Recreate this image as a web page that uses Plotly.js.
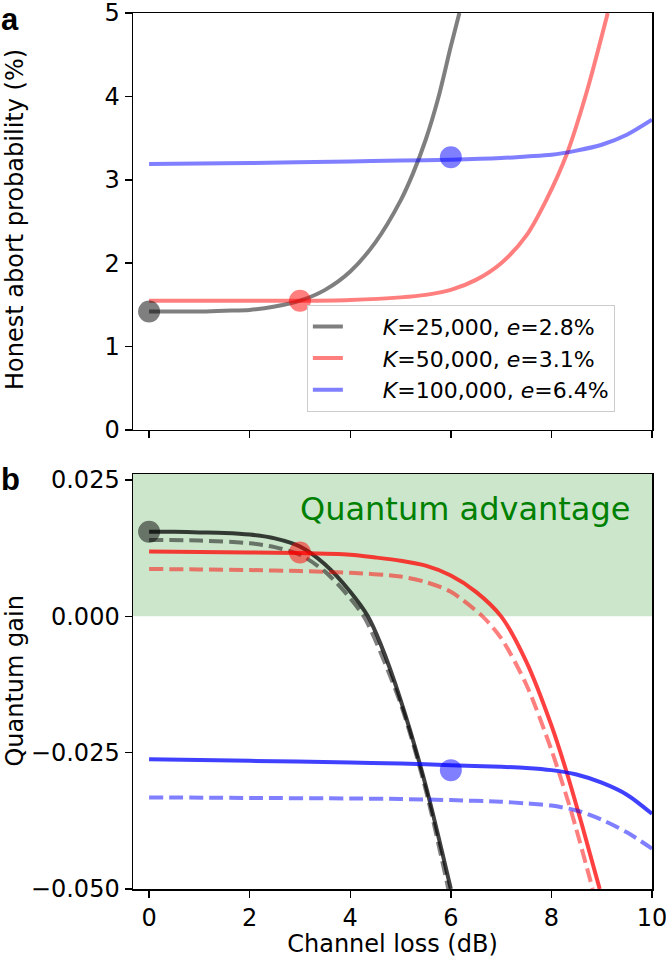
<!DOCTYPE html>
<html>
<head>
<meta charset="utf-8">
<script src="https://cdn.plot.ly/plotly-3.0.1.min.js"></script>
<style>html,body{margin:0;padding:0;background:#fff;}#chart{width:666px;height:958px;}</style>
</head>
<body>
<div id="chart"></div>
<script>
// ---------- Data ----------
const legendLabels = ["<i>K</i>=25,000, <i>e</i>=2.8%", "<i>K</i>=50,000, <i>e</i>=3.1%", "<i>K</i>=100,000, <i>e</i>=6.4%"];

// Panel a: honest abort probability (%)
const abortX_K25 = [0, 0.5, 1, 1.5, 2, 2.5, 3, 3.5, 4, 4.5, 5, 5.25, 5.5, 5.75, 6, 6.17];
const abortY_K25 = [1.42, 1.42, 1.42, 1.43, 1.44, 1.48, 1.55, 1.68, 1.90, 2.25, 2.75, 3.08, 3.48, 3.98, 4.6, 5.0];
const abortX_K50 = [0, 1, 2, 3, 4, 5, 5.5, 6, 6.5, 7, 7.5, 7.9, 8.3, 8.7, 9.12];
const abortY_K50 = [1.55, 1.55, 1.55, 1.55, 1.56, 1.59, 1.62, 1.68, 1.80, 2.0, 2.33, 2.76, 3.30, 4.05, 5.0];
const abortX_K100 = [0, 2, 4, 5, 6, 7, 7.5, 8, 8.5, 9, 9.5, 10];
const abortY_K100 = [3.19, 3.20, 3.22, 3.23, 3.24, 3.26, 3.28, 3.30, 3.35, 3.42, 3.54, 3.72];
const abortPointX = [0, 3, 6];
const abortPointY = [1.42, 1.55, 3.27];

// Panel b: quantum gain
const gainX_K25 = [0, 0.5, 1, 1.5, 2, 2.5, 3, 3.5, 4, 4.35, 4.6, 5, 5.5, 6];
const gainY_K25 = [0.0155, 0.0155, 0.0154, 0.0153, 0.0150, 0.0143, 0.0128, 0.0095, 0.0045, 0.0, -0.005, -0.0153, -0.031, -0.050];
const gainDashX_K25 = [0, 1, 2, 2.5, 3, 3.5, 4, 4.3, 5, 5.5, 5.95];
const gainDashY_K25 = [0.0140, 0.0139, 0.0134, 0.0127, 0.0113, 0.0082, 0.0033, -0.0005, -0.0160, -0.0318, -0.050];
const gainX_K50 = [0, 1, 2, 3, 4, 4.5, 5, 5.5, 6, 6.5, 7, 7.5, 8, 8.3, 8.6, 8.96];
const gainY_K50 = [0.0119, 0.0118, 0.0117, 0.0116, 0.0113, 0.0108, 0.0102, 0.0093, 0.0075, 0.0045, 0.0, -0.0083, -0.020, -0.0285, -0.038, -0.050];
const gainDashX_K50 = [0, 1, 2, 3, 4, 5, 5.5, 6, 6.63, 7, 7.5, 8, 8.4, 8.82];
const gainDashY_K50 = [0.0087, 0.0086, 0.0085, 0.0083, 0.0080, 0.0073, 0.0063, 0.0045, 0.0, -0.004, -0.0125, -0.0245, -0.036, -0.050];
const gainX_K100 = [0, 2, 4, 5, 6, 7, 7.5, 8, 8.5, 9, 9.5, 10];
const gainY_K100 = [-0.0262, -0.0265, -0.0268, -0.0270, -0.0273, -0.0276, -0.0278, -0.0282, -0.0290, -0.0305, -0.0327, -0.0362];
const gainDashX_K100 = [0, 2, 4, 5, 6, 7, 7.5, 8, 8.5, 9, 9.5, 10];
const gainDashY_K100 = [-0.0332, -0.0333, -0.0334, -0.0335, -0.0337, -0.0340, -0.0343, -0.0347, -0.0356, -0.0373, -0.0396, -0.0426];
const gainPointX = [0, 3, 6];
const gainPointY = [0.0155, 0.0117, -0.0282];

const xTickVals = [0, 2, 4, 6, 8, 10];
const abortTickVals = [0, 1, 2, 3, 4, 5];
const gainTickVals = [0.025, 0.0, -0.025, -0.050];
const gainTickText = ["0.025", "0.000", "\u22120.025", "\u22120.050"];

// ---------- Styles ----------
const FONT = "DejaVu Sans, Verdana, sans-serif";
const FS = 24;
const halfColors = ["rgba(0,0,0,0.5)", "rgba(255,0,0,0.5)", "rgba(0,0,255,0.5)"];
const strongColors = ["rgba(0,0,0,0.75)", "rgba(255,0,0,0.75)", "rgba(0,0,255,0.75)"];
const LW = 4;
const LEGEND_PAD = "\u00a0\u00a0\u00a0\u00a0\u00a0";

const traces = [];
const topX = [abortX_K25, abortX_K50, abortX_K100];
const topY = [abortY_K25, abortY_K50, abortY_K100];
for (let i = 0; i < 3; i++) {
  traces.push({x: topX[i], y: topY[i], type: "scatter", mode: "lines", xaxis: "x", yaxis: "y",
    name: LEGEND_PAD + legendLabels[i], line: {color: halfColors[i], width: LW, shape: "spline", smoothing: 0.8}});
}
for (let i = 0; i < 3; i++) {
  traces.push({x: [abortPointX[i]], y: [abortPointY[i]], type: "scatter", mode: "markers", xaxis: "x", yaxis: "y",
    showlegend: false, marker: {color: halfColors[i], size: 22, line: {width: 0}}, cliponaxis: false});
}
const botX = [gainX_K25, gainX_K50, gainX_K100];
const botY = [gainY_K25, gainY_K50, gainY_K100];
const botDX = [gainDashX_K25, gainDashX_K50, gainDashX_K100];
const botDY = [gainDashY_K25, gainDashY_K50, gainDashY_K100];
for (let i = 0; i < 3; i++) {
  traces.push({x: botDX[i], y: botDY[i], type: "scatter", mode: "lines", xaxis: "x2", yaxis: "y2", showlegend: false,
    line: {color: halfColors[i], width: LW, dash: "14px,6px", shape: "spline", smoothing: 0.8}});
  traces.push({x: botX[i], y: botY[i], type: "scatter", mode: "lines", xaxis: "x2", yaxis: "y2", showlegend: false,
    line: {color: strongColors[i], width: LW, shape: "spline", smoothing: 0.8}});
}
for (let i = 0; i < 3; i++) {
  traces.push({x: [gainPointX[i]], y: [gainPointY[i]], type: "scatter", mode: "markers", xaxis: "x2", yaxis: "y2",
    showlegend: false, marker: {color: halfColors[i], size: 22, line: {width: 0}}, cliponaxis: false});
}

const axisCommon = {
  showline: true, mirror: true, linecolor: "black", linewidth: 1.5,
  ticks: "outside", ticklen: 7, tickwidth: 1.5, tickcolor: "black",
  showgrid: false, zeroline: false, ticklabeloverflow: "allow",
  tickfont: {family: FONT, size: FS, color: "black"}
};

const layout = {
  width: 666, height: 958,
  margin: {l: 133, r: 14, t: 13, b: 69},
  paper_bgcolor: "white", plot_bgcolor: "white",
  font: {family: FONT, color: "black"},
  xaxis: Object.assign({}, axisCommon, {domain: [0, 1], anchor: "y", range: [-0.32, 10], tickvals: xTickVals, showticklabels: false}),
  yaxis: Object.assign({}, axisCommon, {domain: [0.524, 1], anchor: "x", range: [0, 5], tickvals: abortTickVals}),
  xaxis2: Object.assign({}, axisCommon, {domain: [0, 1], anchor: "y2", range: [-0.32, 10], tickvals: xTickVals,
    title: {text: "Channel loss (dB)", font: {family: FONT, size: FS, color: "black"}, standoff: 4}}),
  yaxis2: Object.assign({}, axisCommon, {domain: [0, 0.4737], anchor: "x2", range: [-0.05, 0.0261],
    tickvals: gainTickVals, ticktext: gainTickText}),
  shapes: [{type: "rect", xref: "x2 domain", yref: "y2", x0: 0, x1: 1, y0: 0, y1: 0.0261,
    fillcolor: "rgba(0,128,0,0.2)", line: {width: 0}, layer: "below"}],
  annotations: [
    {text: "Quantum advantage", xref: "x2", yref: "y2", x: 6.29, y: 0.0197, showarrow: false,
      font: {family: FONT, size: 32, color: "green"}, xanchor: "center", yanchor: "middle"},
    {text: "Honest abort probability (%)", xref: "paper", yref: "paper", x: -0.227, y: 0.764, textangle: -90,
      showarrow: false, font: {family: FONT, size: FS, color: "black"}, xanchor: "center", yanchor: "middle"},
    {text: "Quantum gain", xref: "paper", yref: "paper", x: -0.227, y: 0.237, textangle: -90,
      showarrow: false, font: {family: FONT, size: FS, color: "black"}, xanchor: "center", yanchor: "middle"},
    {text: "<b>a</b>", xref: "paper", yref: "paper", x: -0.258, y: 1.0148, showarrow: false,
      font: {family: "Liberation Sans, Arial, sans-serif", size: 31, color: "black"}, xanchor: "left", yanchor: "top"},
    {text: "<b>b</b>", xref: "paper", yref: "paper", x: -0.258, y: 0.49, showarrow: false,
      font: {family: "Liberation Sans, Arial, sans-serif", size: 31, color: "black"}, xanchor: "left", yanchor: "top"}
  ],
  legend: {x: 0.335, y: 0.667, xanchor: "left", yanchor: "top", xref: "paper", yref: "paper",
    bgcolor: "rgba(255,255,255,0.8)", bordercolor: "#cccccc", borderwidth: 1,
    font: {family: FONT, size: 22, color: "black"}, tracegroupgap: 0},
  showlegend: true
};

Plotly.newPlot("chart", traces, layout, {staticPlot: true, displayModeBar: false});
</script>
</body>
</html>
